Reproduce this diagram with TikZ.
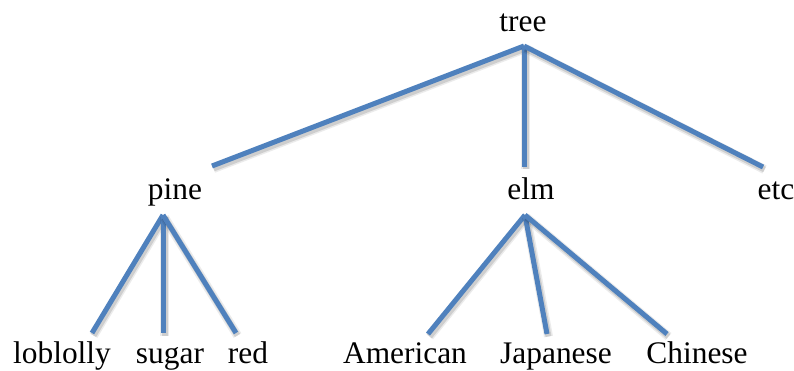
\documentclass[tikz,border=0pt]{standalone}
\usepackage{fontspec}
\setmainfont{Liberation Serif}
\usepackage{tikz}
\usetikzlibrary{calc, positioning}
\definecolor{branchblue}{RGB}{79,129,189}
\tikzset{
  word/.style={anchor=base, inner sep=0pt, font=\fontsize{31.4}{36}\selectfont},
  branch/.style={draw=branchblue, line width=5pt, line cap=butt,
    preaction={draw=black, opacity=0.08, line width=9pt,
      transform canvas={shift={(1.5pt,-2.5pt)}}},
    preaction={draw=black, opacity=0.12, line width=6pt,
      transform canvas={shift={(1.5pt,-2.5pt)}}}}
}
\begin{document}
\begin{tikzpicture}[x=1pt, y=-1pt]
          \useasboundingbox (0,0) rectangle (794,371);
          % Words
          \node[word] (tree) at (523,32) {tree};
          \node[word] (pine) at (175,200) {pine};
          \node[word] (elm) at (531,200) {elm};
          \node[word] (etc) at (776,200) {etc};
          \node[word] (loblolly) at (62,363) {loblolly};
          \node[word] (sugar) at (170,363) {sugar};
          \node[word] (red) at (248,363) {red};
          \node[word] (american) at (405,363) {American};
          \node[word] (japanese) at (556,363) {Japanese};
          \node[word] (chinese) at (697,363) {Chinese};
          % Branch ends
          \coordinate (tree-b) at (524,46);
          \coordinate (pine-t) at (212,166);
          \coordinate (elm-t) at (524,167);
          \coordinate (etc-t) at (763,167);
          \coordinate (pine-b) at (163,215);
          \coordinate (elm-b) at (525,215);
          \coordinate (loblolly-t) at (92,333);
          \coordinate (sugar-t) at (163,333);
          \coordinate (red-t) at (236,333);
          \coordinate (american-t) at (428,334);
          \coordinate (japanese-t) at (547,334);
          \coordinate (chinese-t) at (667,334);
          % Branches
          \foreach \to in {pine, elm, etc}
            \draw[branch] (tree-b) -- (\to-t);
          \foreach \to in {loblolly, sugar, red}
            \draw[branch] (pine-b) -- (\to-t);
          \foreach \to in {american, japanese, chinese}
            \draw[branch] (elm-b) -- (\to-t);
        \end{tikzpicture}
\end{document}
